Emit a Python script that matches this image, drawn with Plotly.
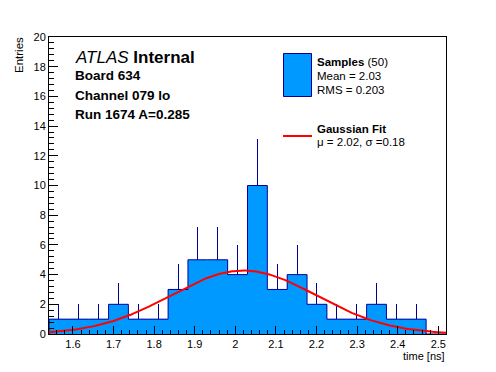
import numpy as np
import plotly.graph_objects as go

# ---- data ----
x_min = 1.541
x_max = 2.519
counts = [1, 1, 1, 2, 1, 1, 3, 5, 5, 4, 10, 3, 4, 2, 1, 1, 2, 1, 1, 0]
fit_amp = 4.27
fit_mu = 2.02
fit_sigma = 0.18
n_samples = 50
mean_val = 2.03
rms_val = 0.203

FILL = "#0099ff"
NAVY = "#000099"
FONT = "Liberation Sans, Arial, sans-serif"

nb = len(counts)
w = (x_max - x_min) / nb
edges = [x_min + i * w for i in range(nb + 1)]
centers = [x_min + (i + 0.5) * w for i in range(nb)]
errs = [np.sqrt(c) for c in counts]

# plot area in pixels
W, H = 496, 372
L, R, T, B = 49, 446, 37, 334


def px(x):
    return (x - L) / (R - L)


def py(y):
    return (B - y) / (B - T)


fig = go.Figure()
fig.add_trace(go.Bar(
    x=centers, y=counts, width=[w] * nb,
    marker=dict(color=FILL, line=dict(width=0)),
    error_y=dict(type="data", array=errs, arrayminus=[0] * nb, color=NAVY,
                 thickness=1, width=0, symmetric=False),
    showlegend=False, hoverinfo="skip",
))
# histogram outline (step)
sx = edges
sy = counts + [counts[-1]]
fig.add_trace(go.Scatter(
    x=[edges[0]] + sx, y=[0] + sy, mode="lines", line=dict(color=NAVY, width=1, shape="hv"),
    showlegend=False, hoverinfo="skip",
))
# gaussian fit
xf = np.linspace(x_min, x_max, 300)
yf = fit_amp * np.exp(-0.5 * ((xf - fit_mu) / fit_sigma) ** 2)
fig.add_trace(go.Scatter(x=xf, y=yf, mode="lines", line=dict(color="#ff0000", width=2),
                         showlegend=False, hoverinfo="skip"))

ann = []


def text(x, y, s, size, xanchor="left", angle=0):
    ann.append(dict(x=px(x), y=py(y), xref="paper", yref="paper", text=s, showarrow=False,
                    xanchor=xanchor, yanchor="middle", textangle=angle,
                    font=dict(family=FONT, size=size, color="black")))


text(73, 57, "<i>ATLAS</i> <b>Internal</b>", 17)
text(73, 76, "<b>Board 634</b>", 13.5)
text(73, 95, "<b>Channel 079 lo</b>", 13.5)
text(73, 114, "<b>Run 1674 A=0.285</b>", 13.5)

text(315, 62, f"<b>Samples</b> ({n_samples})", 11.5)
text(315, 76, f"Mean = {mean_val:.2f}", 11.5)
text(315, 90, f"RMS = {rms_val:.3f}", 11.5)
text(315, 129, "<b>Gaussian Fit</b>", 11.5)
text(315, 142, f"μ = {fit_mu:.2f}, σ ={fit_sigma:.2f}", 11.5)

text(447, 356, "time [ns]", 11, xanchor="right")
text(19, 55, "Entries", 11.5, xanchor="center", angle=-90)

shapes = [
    dict(type="rect", xref="paper", yref="paper", x0=px(283.5), x1=px(311.5), y0=py(53.5), y1=py(96.5),
         fillcolor=FILL, line=dict(color=NAVY, width=1)),
    dict(type="line", xref="paper", yref="paper", x0=px(283), x1=px(312), y0=py(136), y1=py(136),
         line=dict(color="#ff0000", width=2)),
]

fig.update_layout(
    width=W, height=H,
    margin=dict(l=L, r=W - R, t=T, b=H - B, pad=0),
    paper_bgcolor="white", plot_bgcolor="white",
    bargap=0,
    annotations=ann, shapes=shapes,
    font=dict(family=FONT, size=11, color="black"),
    xaxis=dict(range=[x_min, x_max], tick0=1.6, dtick=0.1, ticks="inside", ticklen=8,
               tickcolor="black", showline=True, linecolor="black", linewidth=1, mirror=True,
               showgrid=False, zeroline=False, tickfont=dict(size=11),
               minor=dict(dtick=0.02, tick0=1.6, ticks="inside", ticklen=4, tickcolor="black")),
    yaxis=dict(range=[0, 20], tick0=0, dtick=2, ticks="inside", ticklen=9,
               tickcolor="black", showline=True, linecolor="black", linewidth=1, mirror=True,
               showgrid=False, zeroline=False, tickfont=dict(size=11),
               minor=dict(dtick=0.4, ticks="inside", ticklen=5, tickcolor="black")),
)

fig.write_html("out.html", config={"displayModeBar": False},
               post_script="document.body.style.margin='0px';document.body.style.overflow='hidden';")
